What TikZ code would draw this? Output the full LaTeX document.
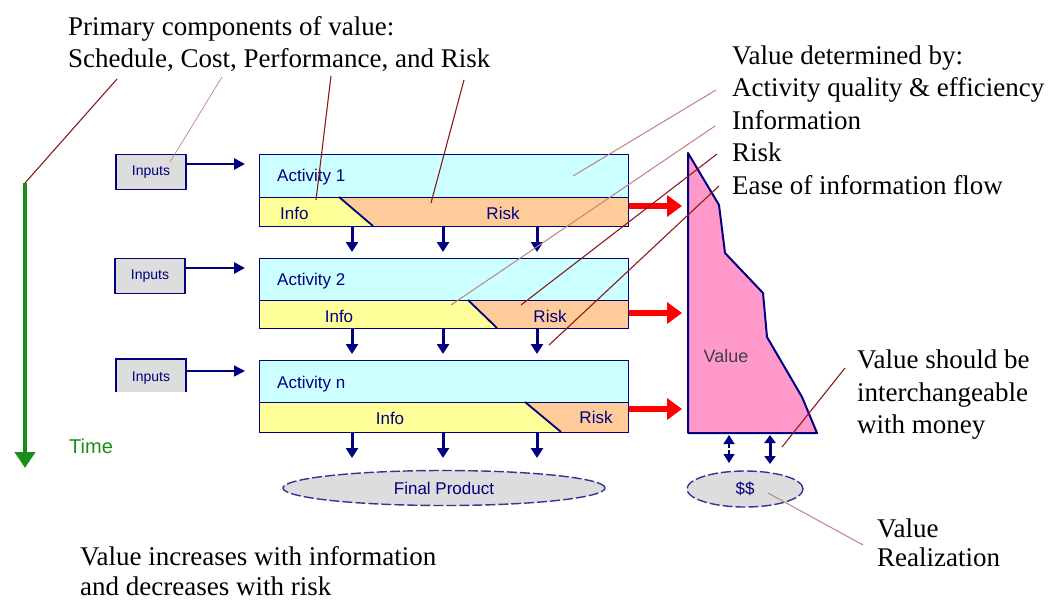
\documentclass[tikz,border=0pt]{standalone}
\usepackage{fontspec}
\setmainfont{Liberation Serif}
\setsansfont{Liberation Sans}
\usetikzlibrary{arrows.meta,shapes.geometric}
\definecolor{navy}{HTML}{000080}
\definecolor{cyanfill}{HTML}{CCFFFF}
\definecolor{infofill}{HTML}{FFFF99}
\definecolor{riskfill}{HTML}{FFCC99}
\definecolor{valfill}{HTML}{FF99CC}
\definecolor{grayfill}{HTML}{DDDDDD}
\definecolor{leader}{HTML}{8B1A1A}
\definecolor{leaderlt}{HTML}{C08080}
\definecolor{timegreen}{HTML}{1A8C1A}
\begin{document}
\begin{tikzpicture}[x=1pt,y=-1pt,
  note/.style={anchor=west,inner sep=0pt,font=\fontsize{27}{32.5}\selectfont,align=left},
  lbl/.style={inner sep=0pt,text=navy,font=\sffamily\fontsize{17}{20}\selectfont},
  inbox/.style={draw=navy,line width=1.4pt,fill=grayfill,minimum width=70pt,minimum height=35pt,inner sep=0pt,text=navy,font=\sffamily\fontsize{14}{17}\selectfont},
  actbox/.style={draw=navy,line width=1.4pt,fill=cyanfill,minimum width=369pt,anchor=north west,inner sep=0pt},
  barbox/.style={draw=navy,line width=1.4pt,minimum width=369pt,anchor=north west,inner sep=0pt},
  downarr/.style={navy,line width=3pt,-{Triangle[length=10pt,width=12pt]}},
  inarr/.style={navy,-{Triangle[length=11pt,width=11pt]}},
  redarr/.style={red,line width=6pt,-{Triangle[length=15pt,width=21pt]}},
  lead/.style={leader,line width=1.1pt},
  leadlt/.style={leaderlt,line width=0.7pt},
  prod/.style={ellipse,draw=navy!80,fill=grayfill,line width=1.4pt,dash pattern=on 10pt off 3pt,inner sep=0pt,text=navy,font=\sffamily\fontsize{17}{20}\selectfont}
]
\useasboundingbox (0,0) rectangle (1048,600);

% ---- top-left notes
\node[note] (prim) at (68,44) {Primary components of value:\\Schedule, Cost, Performance, and Risk};
% ---- right notes
\node[note] (vdet) at (732,120) {Value determined by:\\Activity quality \& efficiency\\Information\\Risk\\Ease of information flow};
\node[note] (vint) at (857,395) {Value should be\\interchangeable\\with money};
\node[note,font=\fontsize{27}{29.5}\selectfont] (vreal) at (877,543) {Value\\Realization};
\node[note,font=\fontsize{27}{29.5}\selectfont] (vinc) at (80,571) {Value increases with information\\and decreases with risk};

% ---- time arrow
\coordinate (t0) at (25,183);
\coordinate (t1) at (25,468);
\draw[timegreen,line width=4pt,-{Triangle[length=16pt,width=20pt]}] (t0) -- (t1);
\node[inner sep=0pt,text=timegreen,font=\sffamily\fontsize{20}{24}\selectfont,anchor=west] (time) at (69,446) {Time};

% ---- inputs
\node[inbox] (in1) at (151,172) {Inputs};
\node[inbox] (in2) at (150,276) {Inputs};
\fill[grayfill] (116,359) rectangle (186,392);
\draw[navy,line width=1.4pt] (116,392) -- (116,359) -- (186,359) -- (186,392);
\node[lbl,font=\sffamily\fontsize{14}{17}\selectfont] (in3) at (151,378) {Inputs};

% ---- activity rows
% row 1
\node[actbox,minimum height=43pt] (a1) at (259,154) {};
\fill[infofill] (259,197) -- (339,197) -- (373,226) -- (259,226) -- cycle;
\fill[riskfill] (339,197) -- (628,197) -- (628,226) -- (373,226) -- cycle;
\node[barbox,minimum height=29pt] (b1) at (259,197) {};
\draw[navy,line width=1.8pt] (339,197) -- (373,226);
\node[lbl,anchor=west] (a1t) at (277,177) {Activity 1};
\node[lbl,anchor=west] (i1) at (280,213) {Info};
\node[lbl] (r1) at (503,213) {Risk};
% row 2
\node[actbox,minimum height=42pt] (a2) at (259,258) {};
\fill[infofill] (259,300) -- (468,300) -- (497,328) -- (259,328) -- cycle;
\fill[riskfill] (468,300) -- (628,300) -- (628,328) -- (497,328) -- cycle;
\node[barbox,minimum height=28pt] (b2) at (259,300) {};
\draw[navy,line width=1.8pt] (468,300) -- (497,328);
\node[lbl,anchor=west] (a2t) at (277,281) {Activity 2};
\node[lbl] (i2) at (339,316) {Info};
\node[lbl] (r2) at (550,316) {Risk};
% row n
\node[actbox,minimum height=42pt] (a3) at (259,360) {};
\fill[infofill] (259,402) -- (525,402) -- (561,432) -- (259,432) -- cycle;
\fill[riskfill] (525,402) -- (628,402) -- (628,432) -- (561,432) -- cycle;
\node[barbox,minimum height=30pt] (b3) at (259,402) {};
\draw[navy,line width=1.8pt] (525,402) -- (561,432);
\node[lbl,anchor=west] (a3t) at (277,384) {Activity n};
\node[lbl] (i3) at (390,418) {Info};
\node[lbl] (r3) at (596,417) {Risk};

% ---- input arrows
\coordinate (e1) at (245,164);
\coordinate (e2) at (245,268);
\coordinate (e3) at (245,371);
\draw[inarr,line width=2.8pt] (in1.east|-e1) -- (e1);
\draw[inarr,line width=2.8pt] (in2.east|-e2) -- (e2);
\draw[inarr,line width=1.4pt] (186,371) -- (e3);

% ---- down arrows
\foreach \x in {352,443,537}{
  \draw[downarr] (\x,226) -- (\x,252);
  \draw[downarr] (\x,328) -- (\x,354);
  \draw[downarr] (\x,432) -- (\x,458);
}

% ---- final product
\node[prod,minimum width=322pt,minimum height=35pt] (fp) at (444,488) {Final Product};

% ---- value shape
\coordinate (v0) at (688,153);
\coordinate (v1) at (719,205);
\coordinate (v2) at (725,253);
\coordinate (v3) at (763,293);
\coordinate (v4) at (767,337);
\coordinate (v5) at (802,397);
\coordinate (v6) at (817,433);
\coordinate (v7) at (688,433);
\draw[navy,fill=valfill,line width=2pt,line join=round] (v0) -- (v1) -- (v2) -- (v3) -- (v4) -- (v5) -- (v6) -- (v7) -- cycle;
\node[inner sep=0pt,text=black!75,font=\sffamily\fontsize{18}{21}\selectfont] (val) at (726,356) {Value};

% ---- red arrows
\draw[redarr] (b1.east|-0,206) -- (682,206);
\draw[redarr] (b2.east|-0,313) -- (682,313);
\draw[redarr] (b3.east|-0,409) -- (682,409);

% ---- $$
\node[prod,minimum width=116pt,minimum height=36pt] (dol) at (745,489) {\$\$};
\draw[navy,line width=1.2pt,{Triangle[length=9pt,width=11pt]}-{Triangle[length=9pt,width=11pt]}] (729,435) -- (729,463);
\draw[white,line width=2pt] (729,448) -- (729,450);
\draw[navy,line width=3pt,{Triangle[length=8pt,width=11pt]}-{Triangle[length=8pt,width=11pt]}] (770,435) -- (770,464);

% ---- leader lines
\coordinate (l1a) at (117,79);
\coordinate (l2a) at (222,77);
\coordinate (l3a) at (331,76);
\coordinate (l4a) at (464,80);
\draw[lead] (l1a) -- (t0);
\draw[leadlt] (l2a) -- (170,162);
\draw[lead] (l3a) -- (316,200);
\draw[lead] (l4a) -- (431,203);
\coordinate (r1a) at (716,90);
\coordinate (r2a) at (715,126);
\coordinate (r3a) at (717,154);
\coordinate (r4a) at (719,186);
\draw[leadlt,line width=1pt] (r1a) -- (573,176);
\draw[leadlt,line width=1pt] (r2a) -- (451,305);
\draw[lead] (r3a) -- (521,305);
\draw[lead] (r4a) -- (549,345);
\coordinate (m1) at (845,368);
\draw[lead] (m1) -- (782,447);
\coordinate (m2) at (863,545);
\draw[leadlt,line width=1pt] (dol.center) ++(23,4) -- (m2);
\end{tikzpicture}
\end{document}
